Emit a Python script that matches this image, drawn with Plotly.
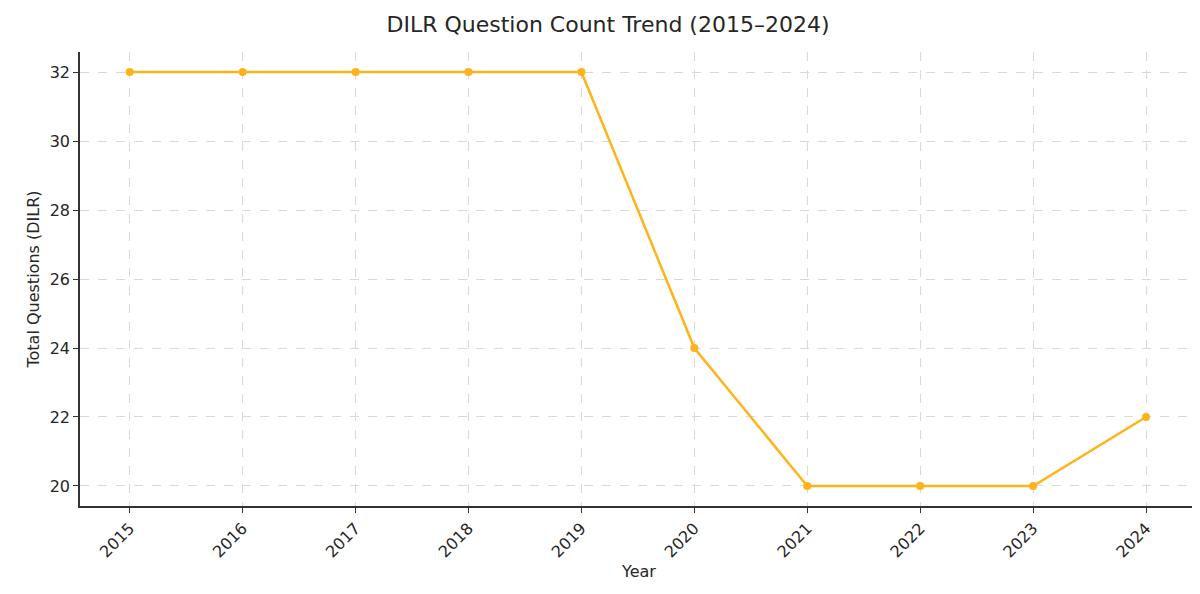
import plotly.graph_objects as go

years = [2015, 2016, 2017, 2018, 2019, 2020, 2021, 2022, 2023, 2024]
questions = [32, 32, 32, 32, 32, 24, 20, 20, 20, 22]
y_ticks = [20, 22, 24, 26, 28, 30, 32]

fig = go.Figure(go.Scatter(
    x=years, y=questions, mode="lines+markers",
    line=dict(color="#FFB31A", width=2.5),
    marker=dict(color="#FFB31A", size=8),
))

fig.update_layout(
    width=1200, height=594,
    margin=dict(l=72, r=10, t=44, b=96, autoexpand=False),
    paper_bgcolor="white", plot_bgcolor="white",
    font=dict(family="DejaVu Sans", color="#262626", size=16),
    title=dict(text="DILR Question Count Trend (2015–2024)", x=0.5, xanchor="center",
               y=0.985, yanchor="top", font=dict(size=22)),
    showlegend=False,
)
fig.update_xaxes(
    range=[2014.56, 2024.46], tickmode="array", tickvals=years,
    ticktext=[str(y) for y in years], tickangle=-45, automargin=False,
    showline=True, linecolor="#333", linewidth=1.5,
    ticks="outside", ticklen=5, tickcolor="#333",
    showgrid=True, gridcolor="#d9d9d9", griddash="dash", gridwidth=1,
    zeroline=False,
    title=dict(text="Year", font=dict(size=16), standoff=6),
)
fig.update_yaxes(
    range=[19.42, 32.58], tickmode="array", tickvals=y_ticks, automargin=False,
    showline=True, linecolor="#333", linewidth=1.5,
    ticks="outside", ticklen=5, tickcolor="#333",
    showgrid=True, gridcolor="#d9d9d9", griddash="dash", gridwidth=1,
    zeroline=False,
    title=dict(text="Total Questions (DILR)", font=dict(size=16), standoff=6),
)

fig.write_html("out.html")
